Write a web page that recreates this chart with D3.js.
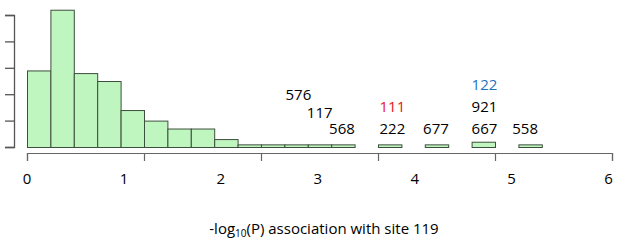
<!DOCTYPE html>
<html><head><meta charset="utf-8">
<script src="https://cdn.jsdelivr.net/npm/d3@7"></script>
<style>
html,body{margin:0;padding:0;background:#fff;}
svg{display:block;font-family:"Open Sans",sans-serif;}
</style></head>
<body><svg id="c" width="617" height="240"></svg>
<script>
// histogram bin counts (25 bins)
const binCounts = [29, 52, 28, 25, 14, 10, 7, 7, 3, 1, 1, 1, 1, 1, 0, 1, 0, 1, 0, 2, 0, 1, 0, 0, 0];
const yTicks = [0, 10, 20, 30, 40, 50];
const binTicks = [0, 5, 10, 15, 20, 25];
const xLabels = [0, 1, 2, 3, 4, 5, 6];
// annotations: text, x position (in -log10 P units), stacking level, colour
const annText = ["576", "117", "568", "111", "222", "677", "122", "921", "667", "558"];
const annX    = [2.80, 3.02, 3.25, 3.77, 3.77, 4.22, 4.72, 4.72, 4.72, 5.14];
const annLevel= [1.55, 0.75, 0, 1, 0, 0, 2, 1, 0, 0];
const annColor= ["#000", "#000", "#000", "#e8141c", "#000", "#000", "#1e73be", "#000", "#000", "#000"];

const svg = d3.select("#c");
const xb = d3.scaleLinear().domain([0, 25]).range([27, 612]);
const y = d3.scaleLinear().domain([0, 50]).range([147, 15]);
const xl = d3.scaleLinear().domain([0, 6]).range([27, 608.5]);
const levelY = d3.scaleLinear().domain([0, 2]).range([134, 90]);

// bars
svg.append("g").selectAll("rect")
  .data(binCounts.map((c, i) => ({c, i})).filter(d => d.c > 0))
  .join("rect")
  .attr("x", d => xb(d.i) + 0.5)
  .attr("width", d => xb(d.i + 1) - xb(d.i))
  .attr("y", d => y(d.c) + 0.5)
  .attr("height", d => y(0) - y(d.c))
  .attr("fill", "#bff5bf")
  .attr("stroke", "#3d4f3d")
  .attr("stroke-width", 1);

// y axis
const ya = svg.append("g").attr("transform", "translate(14,0)")
  .call(d3.axisLeft(y).tickValues(yTicks).tickSize(9).tickFormat(""));
ya.selectAll("path,line").attr("stroke", "#555").attr("stroke-width", 1.3);

// x axis
const xa = svg.append("g").attr("transform", "translate(0,153)")
  .call(d3.axisBottom(xb).tickValues(binTicks).tickSize(8).tickSizeOuter(8).tickFormat(""));
xa.selectAll("path,line").attr("stroke", "#666").attr("stroke-width", 1.2);

// x labels
svg.append("g").selectAll("text").data(xLabels).join("text")
  .attr("x", d => xl(d)).attr("y", 184)
  .attr("text-anchor", "middle").attr("font-size", 15).attr("fill", "#000")
  .text(d => d);

// annotations
svg.append("g").selectAll("text").data(annText).join("text")
  .attr("x", (d, i) => xl(annX[i])).attr("y", (d, i) => levelY(annLevel[i]))
  .attr("text-anchor", "middle").attr("font-size", 15)
  .attr("fill", (d, i) => annColor[i])
  .text(d => d);

// title
const t = svg.append("text").attr("x", 324).attr("y", 234)
  .attr("text-anchor", "middle").attr("font-size", 15).attr("fill", "#000");
t.append("tspan").text("-log");
t.append("tspan").attr("font-size", 10).attr("dy", 3).text("10");
t.append("tspan").attr("dy", -3).text("(P) association with site 119");
</script></body></html>
